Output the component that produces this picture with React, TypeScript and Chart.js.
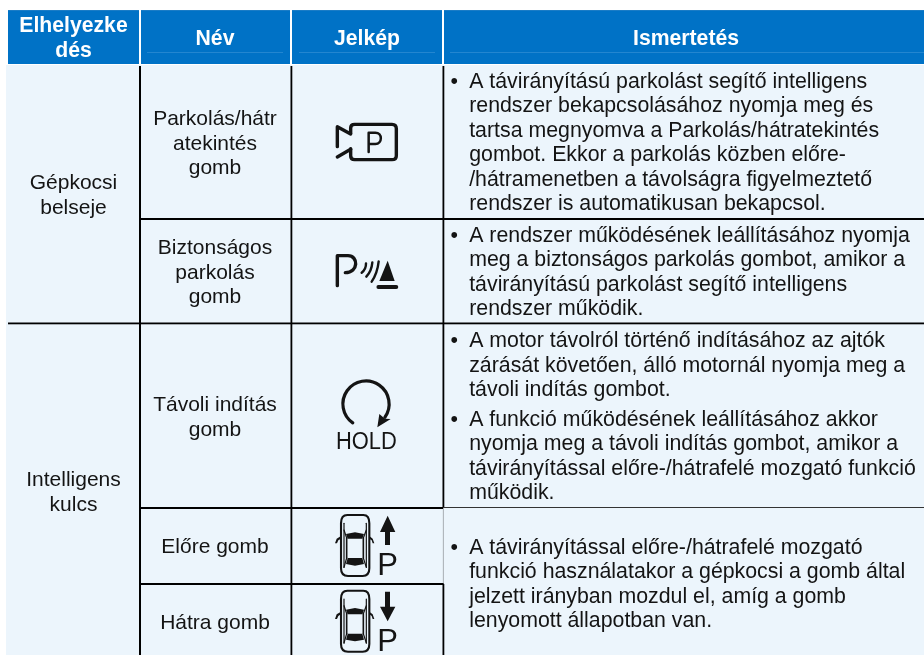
import React, { useEffect, useRef } from "react";
import { Chart, registerables } from "chart.js";

Chart.register(...registerables);

const headers = [["Elhelyezke", "dés"], ["Név"], ["Jelkép"], ["Ismertetés"]];
const locations = [["Gépkocsi", "belseje"], ["Intelligens", "kulcs"]];
const names = [
  ["Parkolás/hátr", "atekintés", "gomb"],
  ["Biztonságos", "parkolás", "gomb"],
  ["Távoli indítás", "gomb"],
  ["Előre gomb"],
  ["Hátra gomb"],
];
const descriptions = [
  [
    "A távirányítású parkolást segítő intelligens",
    "rendszer bekapcsolásához nyomja meg és",
    "tartsa megnyomva a Parkolás/hátratekintés",
    "gombot. Ekkor a parkolás közben előre-",
    "/hátramenetben a távolságra figyelmeztető",
    "rendszer is automatikusan bekapcsol.",
  ],
  [
    "A rendszer működésének leállításához nyomja",
    "meg a biztonságos parkolás gombot, amikor a",
    "távirányítású parkolást segítő intelligens",
    "rendszer működik.",
  ],
  [
    "A motor távolról történő indításához az ajtók",
    "zárását követően, álló motornál nyomja meg a",
    "távoli indítás gombot.",
  ],
  [
    "A funkció működésének leállításához akkor",
    "nyomja meg a távoli indítás gombot, amikor a",
    "távirányítással előre-/hátrafelé mozgató funkció",
    "működik.",
  ],
  [
    "A távirányítással előre-/hátrafelé mozgató",
    "funkció használatakor a gépkocsi a gomb által",
    "jelzett irányban mozdul el, amíg a gomb",
    "lenyomott állapotban van.",
  ],
];
const holdLabel = "HOLD";
const parkLetter = "P";

const FONT = '"Liberation Sans", Arial, sans-serif';
const INK = "#141414";
const HEAD_BLUE = "#0072C6";
const BODY_BLUE = "#ECF5FC";

const headerBoxes = [[8, 139], [141, 290], [292, 442], [444, 924]];
const headerCenters = [73.5, 215, 367, 686];
const headerBaselines = [32, 45, 45, 45];
const locationBaselines = [189, 486.3];
const nameBaselines = [125, 254, 411, 553, 629];
const descBaselines = [87.7, 241.7, 347, 425.7, 553.7];
const STEP = 24.55;

const tablePlugin = {
  id: "table",
  afterDraw(chart: any) {
    const ctx: CanvasRenderingContext2D = chart.ctx;
    const sx = chart.scales.x;
    const sy = chart.scales.y;
    const X = (v: number) => sx.getPixelForValue(v);
    const Y = (v: number) => sy.getPixelForValue(v);

    const rect = (x0: number, y0: number, x1: number, y1: number, c: string) => {
      ctx.fillStyle = c;
      ctx.fillRect(X(x0), Y(y0), X(x1) - X(x0), Y(y1) - Y(y0));
    };
    const text = (s: string, x: number, y: number, font: string, c: string, align: CanvasTextAlign) => {
      ctx.font = font;
      ctx.fillStyle = c;
      ctx.textAlign = align;
      ctx.textBaseline = "alphabetic";
      ctx.fillText(s, X(x), Y(y));
    };

    ctx.save();
    rect(6, 65, 924, 655, BODY_BLUE);
    headerBoxes.forEach(([a, b]) => {
      rect(a, 10, b, 64, HEAD_BLUE);
      rect(a, 10, b, 11, "#1A7CC6");
    });
    [[147, 283], [299, 435], [450, 924]].forEach(([a, b]) => rect(a, 52, b, 52.6, "#3B95D8"));

    const black = "#000";
    rect(139, 66, 141, 655, black);
    rect(290.5, 66, 292.3, 655, black);
    rect(442.5, 66, 444.3, 507, black);
    rect(442.9, 507, 443.6, 584, "#8a8f93");
    rect(442.5, 584, 444.3, 655, black);
    rect(140, 218, 924, 220, black);
    rect(8, 322.5, 924, 324.3, black);
    rect(140, 507, 443, 509, black);
    rect(443, 507, 924, 508, "#333");
    rect(140, 583, 443.6, 585, black);

    const hFont = `bold 21.2px ${FONT}`;
    headers.forEach((lines, i) =>
      lines.forEach((l, j) => text(l, headerCenters[i], headerBaselines[i] + j * 25.3, hFont, "#fff", "center"))
    );

    const bFont = `21px ${FONT}`;
    const dFont = `21.32px ${FONT}`;
    locations.forEach((lines, i) =>
      lines.forEach((l, j) => text(l, 73.5, locationBaselines[i] + j * STEP, bFont, INK, "center"))
    );
    names.forEach((lines, i) =>
      lines.forEach((l, j) => text(l, 215, nameBaselines[i] + j * STEP, bFont, INK, "center"))
    );
    descriptions.forEach((lines, i) => {
      text("•", 450.6, descBaselines[i], dFont, INK, "left");
      lines.forEach((l, j) => text(l, 469.2, descBaselines[i] + j * STEP, dFont, INK, "left"));
    });

    const stroke = (ox: number, oy: number, w: number, pts: number[][]) => {
      ctx.strokeStyle = INK;
      ctx.lineWidth = w;
      ctx.lineCap = "round";
      ctx.lineJoin = "round";
      ctx.beginPath();
      pts.forEach(([a, b], i) => {
        const px = X(ox + a / 3), py = Y(oy + b / 3);
        if (i) ctx.lineTo(px, py); else ctx.moveTo(px, py);
      });
      ctx.stroke();
    };
    const fill = (ox: number, oy: number, pts: number[][]) => {
      ctx.fillStyle = INK;
      ctx.beginPath();
      pts.forEach(([a, b], i) => {
        const px = X(ox + a / 3), py = Y(oy + b / 3);
        if (i) ctx.lineTo(px, py); else ctx.moveTo(px, py);
      });
      ctx.closePath();
      ctx.fill();
    };
    const curve = (ox: number, oy: number, w: number, d: (m: (a: number, b: number) => [number, number]) => void) => {
      ctx.strokeStyle = INK;
      ctx.lineWidth = w;
      ctx.lineCap = "round";
      ctx.lineJoin = "round";
      ctx.beginPath();
      d((a, b) => [X(ox + a / 3), Y(oy + b / 3)]);
      ctx.stroke();
    };

    // camera
    curve(320, 100, 3.4, (m) => {
      ctx.moveTo(...m(92, 100));
      ctx.lineTo(...m(92, 84));
      ctx.quadraticCurveTo(...m(92, 73), ...m(104, 73));
      ctx.lineTo(...m(216, 73));
      ctx.quadraticCurveTo(...m(229, 73), ...m(229, 86));
      ctx.lineTo(...m(229, 167));
      ctx.quadraticCurveTo(...m(229, 179), ...m(216, 179));
      ctx.lineTo(...m(104, 179));
      ctx.quadraticCurveTo(...m(92, 179), ...m(92, 167));
      ctx.lineTo(...m(92, 146));
    });
    stroke(320, 100, 3.4, [[52, 140], [52, 80], [92, 102]]);
    stroke(320, 100, 3.4, [[52, 171], [92, 148]]);
    curve(320, 100, 2.5, (m) => {
      ctx.moveTo(...m(146, 156));
      ctx.lineTo(...m(146, 98));
      ctx.lineTo(...m(166, 98));
      ctx.bezierCurveTo(...m(188, 98), ...m(188, 132), ...m(166, 132));
      ctx.lineTo(...m(147, 132));
    });

    // parking sensor
    curve(320, 100, 3.4, (m) => {
      ctx.moveTo(...m(52, 557));
      ctx.lineTo(...m(52, 467));
      ctx.lineTo(...m(84, 467));
      ctx.bezierCurveTo(...m(116, 467), ...m(116, 518), ...m(76, 518));
    });
    [[125, 518, 138, 490], [139, 530, 157, 487], [155, 545, 176, 484]].forEach(([a, b, c, d]) =>
      curve(320, 100, 2.4, (m) => {
        ctx.moveTo(...m(a, b));
        ctx.quadraticCurveTo(...m((a + c) / 2 + 7, (b + d) / 2 + 4), ...m(c, d));
      })
    );
    fill(320, 100, [[203, 482], [178, 543], [224, 543]]);
    stroke(320, 100, 3.8, [[175, 561], [229, 561]]);

    // remote start
    curve(320, 380, 3.2, (m) => {
      const [cx, cy] = m(138, 72);
      ctx.arc(cx, cy, 23.1, (125 * Math.PI) / 180, (35 * Math.PI) / 180);
    });
    fill(320, 380, [[172, 142], [178, 102], [195, 116], [212, 117]]);
    ctx.save();
    ctx.translate(X(366.3), Y(448.6));
    ctx.scale(0.94, 1);
    ctx.font = `23.3px ${FONT}`;
    ctx.fillStyle = INK;
    ctx.textAlign = "center";
    ctx.fillText(holdLabel, 0, 0);
    ctx.restore();

    // car + arrow
    const car = (oy: number, up: boolean) => {
      curve(320, oy, 2.1, (m) => {
        ctx.moveTo(...m(82, 405));
        ctx.lineTo(...m(130, 405));
        ctx.quadraticCurveTo(...m(148, 405), ...m(148, 430));
        ctx.lineTo(...m(148, 565));
        ctx.quadraticCurveTo(...m(148, 588), ...m(128, 588));
        ctx.lineTo(...m(84, 588));
        ctx.quadraticCurveTo(...m(63, 588), ...m(63, 565));
        ctx.lineTo(...m(63, 430));
        ctx.quadraticCurveTo(...m(63, 405), ...m(82, 405));
      });
      stroke(320, oy, 1.2, [[72, 430], [72, 562]]);
      stroke(320, oy, 1.2, [[139, 430], [139, 562]]);
      stroke(320, oy, 1.6, [[80, 474], [80, 534]]);
      stroke(320, oy, 1.6, [[130, 474], [130, 534]]);
      stroke(320, oy, 1.2, [[72, 450], [80, 474]]);
      stroke(320, oy, 1.2, [[139, 450], [130, 474]]);
      stroke(320, oy, 1.2, [[72, 562], [80, 534]]);
      stroke(320, oy, 1.2, [[139, 562], [130, 534]]);
      fill(320, oy, [[78, 462], [105, 457], [132, 462], [127, 476], [83, 476]]);
      fill(320, oy, [[83, 534], [127, 534], [132, 552], [105, 557], [78, 552]]);
      fill(320, oy, [[45, 490], [50, 476], [63, 468], [63, 476], [55, 481], [51, 490]]);
      fill(320, oy, [[163, 490], [158, 476], [148, 468], [148, 476], [155, 481], [158, 490]]);
      if (up) {
        fill(320, oy, [[203, 407], [180, 456], [195, 456], [195, 495], [210, 495], [210, 456], [226, 456]]);
      } else {
        fill(320, oy, [[195, 408], [210, 408], [210, 453], [226, 453], [203, 497], [180, 453], [195, 453]]);
      }
      text(parkLetter, 320 + 172 / 3, oy + 585 / 3, `31px ${FONT}`, INK, "left");
    };
    car(380, true);
    car(455.7, false);
    ctx.restore();
  },
};

export default function App() {
  const ref = useRef<HTMLCanvasElement>(null);
  useEffect(() => {
    const chart = new Chart(ref.current as HTMLCanvasElement, {
      type: "scatter",
      data: { datasets: [] },
      options: {
        animation: false,
        responsive: false,
        layout: { padding: 0 },
        plugins: { legend: { display: false }, tooltip: { enabled: false } },
        scales: {
          x: { type: "linear", min: 0, max: 924, display: false },
          y: { type: "linear", min: 0, max: 655, reverse: true, display: false },
        },
      },
      plugins: [tablePlugin],
    } as any);
    return () => chart.destroy();
  }, []);
  return (
    <div style={{ position: "absolute", left: 0, top: 0, width: 924, height: 655, background: "#fff", overflow: "hidden" }}>
      <canvas ref={ref} width={924} height={655} style={{ display: "block" }} />
    </div>
  );
}
